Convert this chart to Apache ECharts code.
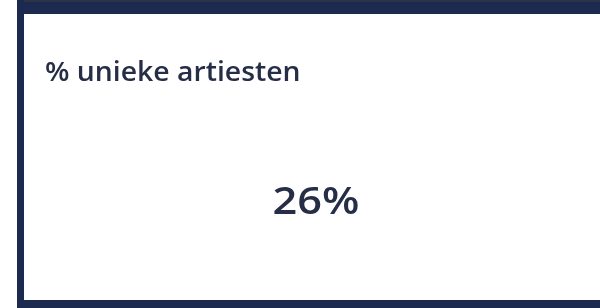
<!DOCTYPE html>
<html>
<head>
<meta charset="utf-8">
<script src="https://cdn.jsdelivr.net/npm/echarts@6/dist/echarts.min.js"></script>
<style>
  html, body { margin: 0; padding: 0; background: #fff; }
  #chart { width: 600px; height: 308px; }
</style>
</head>
<body>
<div id="chart"></div>
<script>
// kpi card data
var titles = ['% unieke artiesten'];
var values = [26];
var units = ['%'];

var chart = echarts.init(document.getElementById('chart'));
var navy = '#1c2a4f';
var textColor = '#262e47';

chart.setOption({
  backgroundColor: '#ffffff',
  graphic: [
    // frame
    { type: 'rect', shape: { x: 17, y: 0, width: 583, height: 14 }, style: { fill: navy } },
    { type: 'rect', shape: { x: 17, y: 0, width: 583, height: 2 }, style: { fill: '#2e3447' } },
    { type: 'rect', shape: { x: 17, y: 0, width: 7, height: 308 }, style: { fill: navy } },
    { type: 'rect', shape: { x: 17, y: 300, width: 583, height: 8 }, style: { fill: navy } },
    {
      type: 'text', x: 45, y: 60, scaleX: 1.05,
      style: { text: titles[0], font: '600 27px "Open Sans", sans-serif', fill: textColor, textAlign: 'left', textVerticalAlign: 'top' }
    },
    {
      type: 'text', x: 316, y: 184, scaleX: 1.14,
      style: { text: values[0] + units[0], font: '600 38px "Open Sans", sans-serif', fill: textColor, textAlign: 'center', textVerticalAlign: 'top' }
    }
  ]
});
</script>
</body>
</html>
